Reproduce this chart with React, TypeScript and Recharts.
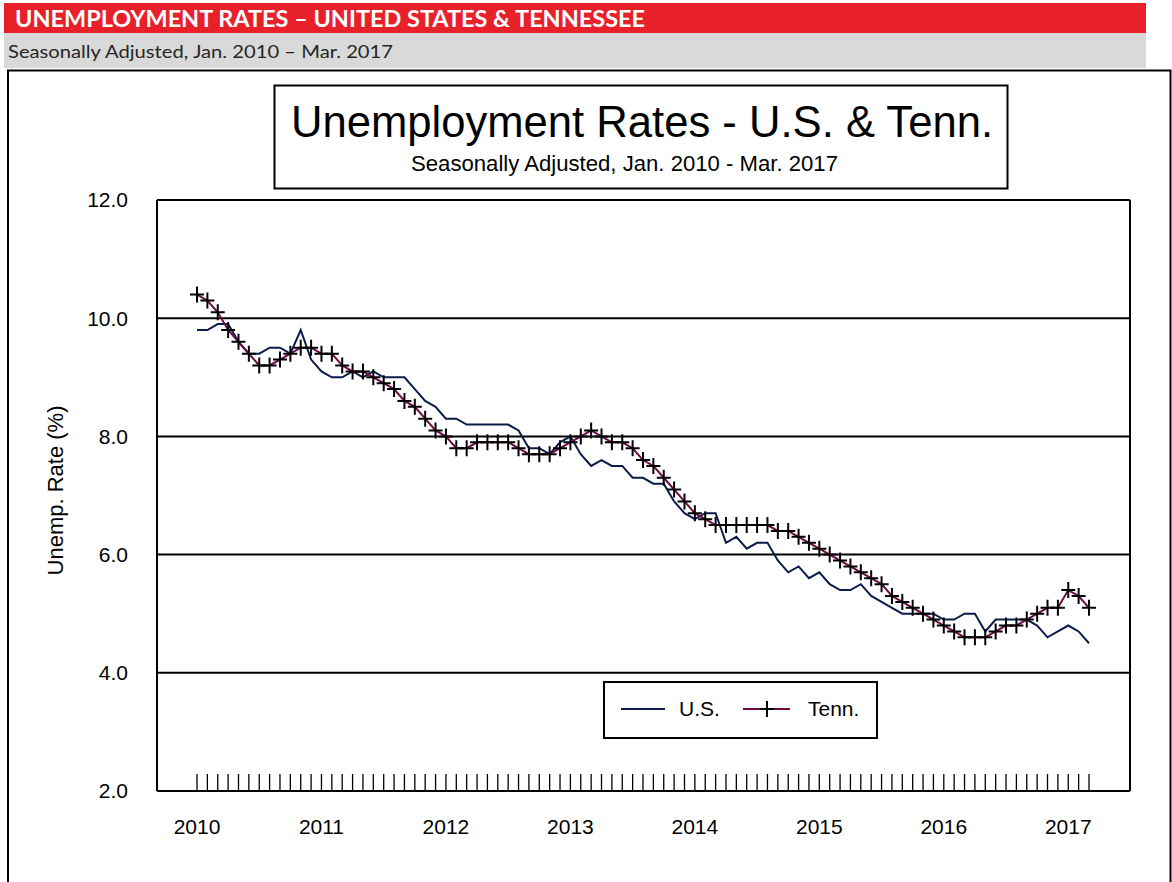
import React from 'react';
import { LineChart, Line, XAxis, YAxis, CartesianGrid, Legend } from 'recharts';

const years = ['2010', '2011', '2012', '2013', '2014', '2015', '2016', '2017'];
const monthNames = ['Jan', 'Feb', 'Mar', 'Apr', 'May', 'Jun', 'Jul', 'Aug', 'Sep', 'Oct', 'Nov', 'Dec'];

const usRates = [
  9.8, 9.8, 9.9, 9.9, 9.6, 9.4, 9.4, 9.5, 9.5, 9.4, 9.8, 9.3,
  9.1, 9.0, 9.0, 9.1, 9.0, 9.1, 9.0, 9.0, 9.0, 8.8, 8.6, 8.5,
  8.3, 8.3, 8.2, 8.2, 8.2, 8.2, 8.2, 8.1, 7.8, 7.8, 7.7, 7.9,
  8.0, 7.7, 7.5, 7.6, 7.5, 7.5, 7.3, 7.3, 7.2, 7.2, 6.9, 6.7,
  6.6, 6.7, 6.7, 6.2, 6.3, 6.1, 6.2, 6.2, 5.9, 5.7, 5.8, 5.6,
  5.7, 5.5, 5.4, 5.4, 5.5, 5.3, 5.2, 5.1, 5.0, 5.0, 5.0, 5.0,
  4.9, 4.9, 5.0, 5.0, 4.7, 4.9, 4.9, 4.9, 4.9, 4.8, 4.6, 4.7,
  4.8, 4.7, 4.5,
];

const tnRates = [
  10.4, 10.3, 10.1, 9.8, 9.6, 9.4, 9.2, 9.2, 9.3, 9.4, 9.5, 9.5,
  9.4, 9.4, 9.2, 9.1, 9.1, 9.0, 8.9, 8.8, 8.6, 8.5, 8.3, 8.1,
  8.0, 7.8, 7.8, 7.9, 7.9, 7.9, 7.9, 7.8, 7.7, 7.7, 7.7, 7.8,
  7.9, 8.0, 8.1, 8.0, 7.9, 7.9, 7.8, 7.6, 7.5, 7.3, 7.1, 6.9,
  6.7, 6.6, 6.5, 6.5, 6.5, 6.5, 6.5, 6.5, 6.4, 6.4, 6.3, 6.2,
  6.1, 6.0, 5.9, 5.8, 5.7, 5.6, 5.5, 5.3, 5.2, 5.1, 5.0, 4.9,
  4.8, 4.7, 4.6, 4.6, 4.6, 4.7, 4.8, 4.8, 4.9, 5.0, 5.1, 5.1,
  5.4, 5.3, 5.1,
];

const yTicks = [2, 4, 6, 8, 10, 12];
const seriesNames = { us: 'U.S.', tn: 'Tenn.' };

const US_COLOR = '#0b1b4d';
const TN_COLOR = '#6e0c46';
const FONT = '"Liberation Sans", Arial, sans-serif';

const data = usRates.map((us, i) => ({
  month: `${monthNames[i % 12]} ${years[Math.floor(i / 12)]}`,
  us,
  tn: tnRates[i],
}));

const MonthTick = (props: any) => {
  const { x, y, payload } = props;
  const label: string = payload.value;
  const isJan = label.startsWith('Jan');
  return (
    <g>
      <line x1={x} x2={x} y1={y - 17} y2={y} stroke="#000" strokeWidth={1.3} />
      {isJan && (
        <text x={x} y={y + 43} textAnchor="middle" fontSize={21} fontFamily={FONT} fill="#000">
          {label.slice(4)}
        </text>
      )}
    </g>
  );
};

const PlusDot = (props: any) => {
  const { cx, cy, index } = props;
  if (cx == null || cy == null) return <g key={`p-${index}`} />;
  return (
    <path
      key={`p-${index}`}
      d={`M${cx - 7},${cy}H${cx + 7}M${cx},${cy - 8}V${cy + 8}`}
      stroke="#000"
      strokeWidth={2}
      fill="none"
    />
  );
};

const LegendBox = () => (
  <svg width={276} height={59} style={{ display: 'block' }}>
    <rect x={1} y={1} width={273} height={56} fill="#fff" stroke="#000" strokeWidth={2} />
    <line x1={18} x2={62} y1={28} y2={28} stroke={US_COLOR} strokeWidth={2} />
    <text x={76} y={35} fontSize={21} fontFamily={FONT} fill="#000">{seriesNames.us}</text>
    <line x1={140} x2={187} y1={28} y2={28} stroke={TN_COLOR} strokeWidth={2} />
    <path d="M157,28H171M164,20V36" stroke="#000" strokeWidth={2} />
    <text x={205} y={35} fontSize={21} fontFamily={FONT} fill="#000">{seriesNames.tn}</text>
  </svg>
);

const YLabel = (props: any) => {
  const { viewBox } = props;
  const cx = 55;
  const cy = viewBox.y + viewBox.height / 2 - 5;
  return (
    <text
      x={cx}
      y={cy}
      transform={`rotate(-90 ${cx} ${cy})`}
      textAnchor="middle"
      dominantBaseline="central"
      fontSize={22}
      fontFamily={FONT}
      fill="#000"
    >
      Unemp. Rate (%)
    </text>
  );
};

export default function App() {
  return (
    <div style={{ position: 'absolute', left: 0, top: 0, width: 1172, height: 882, overflow: 'hidden', background: '#fff' }}>
      <svg width={1172} height={882} style={{ position: 'absolute', left: 0, top: 0 }}>
        <rect x={4} y={3} width={1142} height={30} fill="#e8202a" />
        <text x={15} y={27} fontSize={22} fontWeight={700} fontFamily="Lato, 'Open Sans', sans-serif" fill="#fff" textLength={630} lengthAdjust="spacingAndGlyphs">
          UNEMPLOYMENT RATES – UNITED STATES &amp; TENNESSEE
        </text>
        <rect x={4} y={33} width={1142} height={35} fill="#d9d9d9" />
        <text x={8} y={58} fontSize={16.5} fontFamily="Lato, 'Open Sans', sans-serif" fill="#262626" textLength={385} lengthAdjust="spacingAndGlyphs">
          Seasonally Adjusted, Jan. 2010 – Mar. 2017
        </text>
        <path d="M8,900V70.5H1170.5V900" fill="none" stroke="#000" strokeWidth={2} />
        <rect x={274.5} y={85.5} width={733} height={103} fill="#fff" stroke="#000" strokeWidth={2} />
        <text x={642} y={137} textAnchor="middle" fontSize={44} fontFamily={FONT} fill="#000" textLength={702} lengthAdjust="spacingAndGlyphs">
          Unemployment Rates - U.S. &amp; Tenn.
        </text>
        <text x={624.5} y={171} textAnchor="middle" fontSize={22} fontFamily={FONT} fill="#000" textLength={427} lengthAdjust="spacingAndGlyphs">
          Seasonally Adjusted, Jan. 2010 - Mar. 2017
        </text>
      </svg>
      <div style={{ position: 'absolute', left: 0, top: 0 }}>
        <LineChart width={1172} height={882} data={data} margin={{ top: 200, right: 0, bottom: 0, left: 0 }}>
          <CartesianGrid vertical={false} stroke="#000" strokeWidth={2} />
          <XAxis
            dataKey="month"
            interval={0}
            height={91}
            padding={{ left: 40, right: 41 }}
            tickSize={0}
            tickMargin={0}
            tickLine={false}
            axisLine={{ stroke: '#000', strokeWidth: 2 }}
            tick={<MonthTick />}
          />
          <YAxis
            domain={[2, 12]}
            ticks={yTicks}
            width={157}
            tickSize={0}
            tickMargin={29}
            tickLine={false}
            tickFormatter={(v: number) => v.toFixed(1)}
            axisLine={{ stroke: '#000', strokeWidth: 2 }}
            tick={{ fill: '#000', fontSize: 21, fontFamily: FONT }}
            label={<YLabel />}
          />
          <YAxis
            yAxisId="r"
            orientation="right"
            domain={[2, 12]}
            ticks={yTicks}
            width={42}
            tick={false}
            tickLine={false}
            axisLine={{ stroke: '#000', strokeWidth: 2 }}
          />
          <Legend
            layout="vertical"
            align="center"
            verticalAlign="middle"
            wrapperStyle={{ left: 603, top: 681, width: 276, height: 59 }}
            content={<LegendBox />}
          />
          <Line
            type="linear"
            dataKey="us"
            name={seriesNames.us}
            stroke={US_COLOR}
            strokeWidth={2}
            dot={false}
            activeDot={false}
            isAnimationActive={false}
          />
          <Line
            type="linear"
            dataKey="tn"
            name={seriesNames.tn}
            stroke={TN_COLOR}
            strokeWidth={2}
            dot={(p: any) => <PlusDot {...p} key={`p-${p.index}`} />}
            activeDot={false}
            isAnimationActive={false}
          />
        </LineChart>
      </div>
    </div>
  );
}
